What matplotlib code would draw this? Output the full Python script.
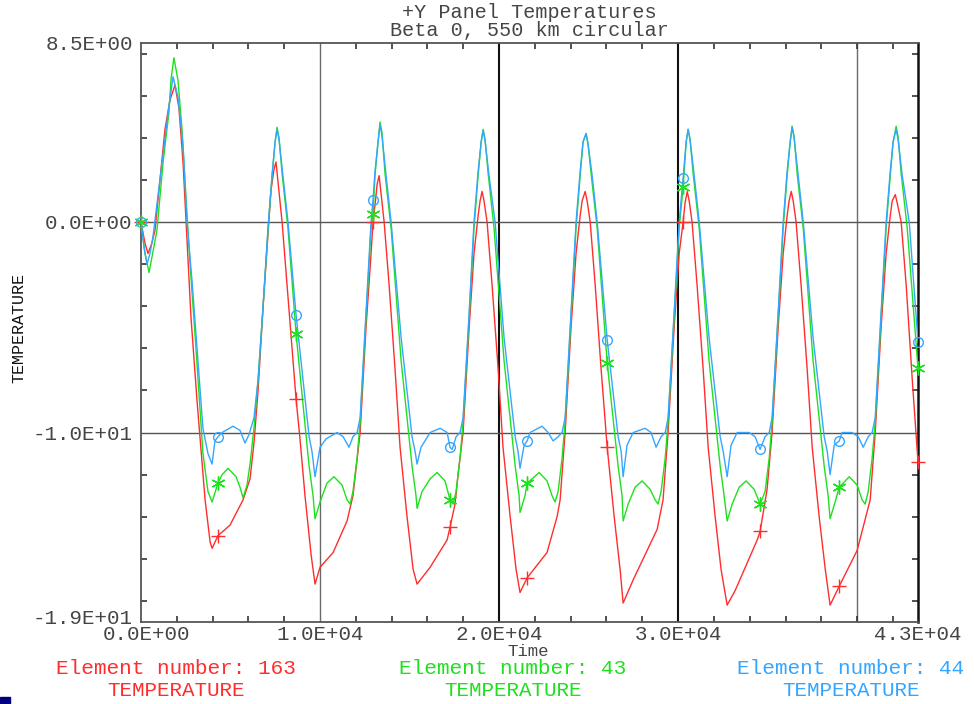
import numpy as np
import matplotlib
matplotlib.use("Agg")
import matplotlib.pyplot as plt
import matplotlib.transforms as mtransforms
from matplotlib.ticker import MultipleLocator
from matplotlib.patches import Rectangle

# (time [s], temperature)
red_pts = [
    (0, 0.0), (220, -1.0), (390, -1.5), (610, -1.0), (780, -0.4), (1060, 2.0), (1340, 4.4), (1620, 5.8), (1900, 6.5),
    (2120, 5.4), (2350, 2.8), (2570, -0.8), (2790, -4.5), (3130, -8.5), (3580, -13.2), (3860, -15.2), (3970, -15.5),
    (4300, -14.9), (4970, -14.4), (5700, -13.2), (6090, -12.2), (6310, -10.5), (6540, -8.0), (6820, -4.0),
    (7100, -0.5), (7260, 1.5), (7430, 2.5), (7540, 2.85),
    (7880, 0.0), (8160, -3.0), (8440, -6.0), (8660, -8.4), (8880, -10.3), (9160, -13.0), (9500, -15.8), (9720, -17.2),
    (10000, -16.4), (10730, -15.7), (11510, -14.2), (11840, -13.0), (12240, -10.0), (12570, -5.0), (12850, -1.5),
    (12960, 0.0), (13070, 0.8), (13190, 1.8), (13300, 2.2),
    (13580, 0.0), (13860, -3.0), (14190, -7.0), (14470, -10.7), (14860, -14.0), (15200, -16.5), (15420, -17.2),
    (16150, -16.4), (17100, -15.1), (17260, -14.5), (17540, -13.4), (17710, -12.0), (17990, -10.0), (18330, -5.0),
    (18600, -1.5), (18830, 0.3), (18940, 1.0), (19050, 1.45),
    (19160, 1.0), (19330, 0.0), (19610, -3.0), (19950, -7.0), (20220, -10.7), (20620, -14.0), (20950, -16.5), (21170, -17.6),
    (21570, -16.9), (22680, -15.7), (23240, -14.0), (23410, -13.2), (23690, -10.0), (24020, -5.0), (24300, -1.5),
    (24530, 0.3), (24640, 1.0), (24810, 1.45),
    (24920, 1.0), (25090, 0.0), (25370, -3.0), (25700, -7.0), (26040, -10.7), (26430, -14.0), (26760, -16.5), (26930, -18.1),
    (27490, -17.0), (28830, -14.6), (29160, -13.2), (29440, -10.0), (29780, -5.0), (30060, -1.5), (30280, 0.0),
    (30390, 0.9), (30510, 1.45),
    (30620, 1.0), (30780, 0.0), (31060, -3.0), (31400, -7.0), (31680, -10.7), (32070, -14.0), (32400, -16.5), (32740, -18.2),
    (33190, -17.5), (34420, -15.1), (34580, -14.7), (34970, -12.7), (35250, -10.0), (35590, -5.0), (35870, -1.5),
    (36090, 0.3), (36200, 1.0), (36320, 1.45),
    (36430, 1.0), (36590, 0.0), (36870, -3.0), (37210, -7.0), (37490, -10.7), (37880, -14.0), (38220, -16.5), (38490, -18.2),
    (39000, -17.3), (40000, -15.6), (40730, -13.2), (41010, -10.0), (41340, -5.0), (41620, -1.5), (41850, 0.3),
    (41960, 1.0), (42130, 1.3),
    (42240, 0.9), (42460, 0.0), (42740, -3.0), (43080, -7.5), (43400, -11.4),
]

green_pts = [
    (0, 0.0), (220, -1.5), (450, -2.4), (670, -1.4), (890, -0.4), (1230, 2.8), (1560, 5.2), (1680, 6.8), (1840, 7.8),
    (2070, 6.7), (2290, 4.4), (2510, 1.2), (2740, -2.0), (3070, -6.0), (3460, -11.0), (3740, -12.8), (3970, -13.3),
    (4300, -12.4), (4530, -12.0), (4860, -11.7), (5310, -12.1), (5530, -12.6), (5700, -13.1), (5920, -12.5),
    (6090, -11.5), (6310, -9.8), (6540, -7.5), (6820, -4.0), (7100, -0.3), (7320, 2.2), (7490, 3.8), (7600, 4.5),
    (7710, 4.0), (7880, 2.3), (8210, -0.3), (8660, -5.3), (9390, -11.6), (9610, -13.0), (9720, -14.1),
    (10000, -13.3), (10390, -12.4), (10780, -12.1), (11230, -12.5), (11510, -13.2), (11680, -13.4), (11840, -12.8),
    (12070, -11.2), (12240, -9.5), (12570, -4.5), (12850, -0.3), (12960, 0.4), (13070, 2.2), (13240, 3.8), (13350, 4.75),
    (13460, 4.25), (13630, 2.3), (13970, -0.3), (14530, -6.6), (15140, -11.6), (15360, -13.0), (15420, -13.6),
    (15700, -12.8), (16150, -12.2), (16540, -11.9), (16980, -12.3), (17260, -13.2), (17430, -13.4), (17600, -12.8),
    (17820, -11.2), (17990, -9.5), (18330, -4.5), (18600, -0.3), (18830, 2.2), (19000, 3.8), (19110, 4.4),
    (19220, 3.9), (19390, 2.3), (19720, -0.3), (20280, -6.6), (20900, -11.6), (21120, -13.0), (21170, -13.8),
    (21450, -13.0), (21570, -12.4), (21850, -12.2), (22240, -11.9), (22680, -12.3), (22960, -13.0), (23130, -13.3),
    (23300, -12.8),
    (23520, -11.2), (23690, -9.5), (24020, -4.5), (24300, -0.3), (24530, 2.2), (24690, 3.8), (24860, 4.2),
    (24970, 3.7), (25140, 2.3), (25480, -0.3), (26040, -6.7), (26650, -11.6), (26870, -13.0), (26930, -14.2),
    (27210, -13.4), (27600, -12.6), (27990, -12.3), (28440, -12.7), (28720, -13.2), (28880, -13.4), (29050, -12.8),
    (29280, -11.2), (29440, -9.5), (29780, -4.5), (30060, -0.3), (30280, 1.65), (30450, 3.8), (30560, 4.4),
    (30670, 3.9), (30840, 2.3), (31180, -0.3), (31730, -6.6), (32350, -11.6), (32570, -13.0), (32740, -14.2),
    (33020, -13.4), (33410, -12.6), (33800, -12.3), (34250, -12.7), (34580, -13.4), (34860, -12.8),
    (35090, -11.2), (35250, -9.5), (35590, -4.5), (35870, -0.3), (36090, 2.2), (36260, 3.8), (36370, 4.55),
    (36480, 4.05), (36650, 2.3), (36990, -0.3), (37540, -6.6), (38160, -11.6), (38380, -13.0), (38490, -14.1),
    (38770, -13.3), (39000, -12.6), (39560, -12.1), (40000, -12.5), (40280, -13.2), (40450, -13.4), (40620, -12.8),
    (40840, -11.2), (41010, -9.5), (41340, -4.5), (41620, -0.3), (41850, 2.2), (42010, 3.8), (42180, 4.55),
    (42290, 4.05), (42460, 2.3), (42800, -0.3), (43400, -6.95),
]

blue_pts = [
    (0, 0.0), (170, -1.2), (340, -2.0), (500, -1.5), (670, -0.7), (1170, 2.8), (1560, 5.5), (1790, 6.9),
    (2070, 5.9), (2350, 3.6), (2570, 0.0), (2850, -2.8), (3130, -6.0), (3460, -9.8), (3740, -11.0), (3970, -11.5),
    (4130, -10.4), (4300, -10.2), (4530, -10.0), (5140, -9.7), (5530, -9.9), (5810, -10.5), (6030, -10.1),
    (6310, -9.3), (6540, -7.5), (6820, -4.0), (7100, -0.2), (7320, 2.2), (7490, 3.8), (7600, 4.4),
    (7710, 3.9), (7930, 2.2), (8210, 0.0), (8660, -4.4), (9390, -10.2), (9550, -10.9), (9720, -12.1),
    (10000, -10.7), (10340, -10.3), (10950, -10.0), (11290, -10.2), (11620, -10.7), (11840, -10.2),
    (12070, -10.0), (12240, -9.3), (12570, -4.3), (12850, 0.0), (12960, 1.05), (13070, 2.4), (13240, 3.8), (13350, 4.6),
    (13460, 4.1), (13690, 2.2), (13970, 0.0), (14530, -5.5), (15140, -10.2), (15310, -10.9), (15420, -11.5),
    (15640, -10.7), (16150, -10.0), (16710, -9.8), (17100, -10.0), (17260, -10.7), (17380, -10.8), (17600, -10.2),
    (17820, -10.0), (17990, -9.3), (18330, -4.3), (18600, 0.0), (18830, 2.4), (19000, 3.8), (19110, 4.35),
    (19220, 3.85), (19440, 2.2), (19780, 0.0), (20280, -5.5), (20900, -10.2), (21060, -10.9), (21170, -11.7),
    (21400, -10.6), (21570, -10.4), (21730, -10.0), (22400, -9.7), (22740, -10.0), (23020, -10.4), (23300, -10.2),
    (23520, -10.0), (23690, -9.3), (24020, -4.3), (24300, 0.0), (24530, 2.4), (24690, 3.8), (24860, 4.2),
    (24970, 3.7), (25200, 2.2), (25480, 0.0), (26040, -5.6), (26650, -10.2), (26820, -10.9), (26930, -12.1),
    (27150, -10.6), (27490, -10.0), (28160, -9.8), (28490, -10.0), (28770, -10.7), (29050, -10.2),
    (29280, -10.0), (29440, -9.3), (29780, -4.3), (30060, 0.0), (30280, 2.1), (30450, 3.8), (30560, 4.4),
    (30670, 3.9), (30900, 2.2), (31180, 0.0), (31730, -5.5), (32350, -10.2), (32520, -10.9), (32740, -12.1),
    (32960, -10.6), (33300, -10.0), (33970, -10.0), (34300, -10.2), (34580, -10.8), (34860, -10.2),
    (35090, -10.0), (35250, -9.3), (35590, -4.3), (35870, 0.0), (36090, 2.4), (36260, 3.8), (36370, 4.5),
    (36480, 4.0), (36710, 2.2), (36990, 0.0), (37540, -5.5), (38160, -10.2), (38330, -10.9), (38490, -12.0),
    (38720, -10.6), (39000, -10.4), (39160, -10.0), (39720, -10.0), (40060, -10.2), (40340, -10.7), (40620, -10.2),
    (40840, -10.0), (41010, -9.3), (41340, -4.3), (41620, 0.0), (41850, 2.4), (42010, 3.8), (42180, 4.4),
    (42290, 3.9), (42520, 2.2), (42910, 0.0), (43400, -5.7),
]

# symbols drawn every few samples
mark_t = [0, 4300, 8660, 12960, 17260, 21570, 26040, 30280, 34580, 39000, 43400]
red_mark = [0.0, -14.9, -8.4, 0.0, -14.5, -16.9, -10.7, 0.0, -14.7, -17.3, -11.4]
green_mark = [0.0, -12.4, -5.3, 0.4, -13.2, -12.4, -6.7, 1.65, -13.4, -12.6, -6.95]
blue_mark = [0.0, -10.2, -4.4, 1.05, -10.7, -10.4, -5.6, 2.1, -10.8, -10.4, -5.7]

xtick_vals = [0, 10000, 20000, 30000, 43400]
xtick_text = ["0.0E+00", "1.0E+04", "2.0E+04", "3.0E+04", "4.3E+04"]
ytick_vals = [8.5, 0.0, -10.0, -19.0]
ytick_text = ["8.5E+00", "0.0E+00", "-1.0E+01", "-1.9E+01"]
grid_x_light = [10000, 40000]
grid_x_dark = [20000, 30000]
grid_y = [0.0, -10.0]

series = [
    ("Element number: 163", red_pts, red_mark, "#ff2d2d", "+"),
    ("Element number: 43", green_pts, green_mark, "#1fe01f", (6, 2, 0)),
    ("Element number: 44", blue_pts, blue_mark, "#35a6ff", "o"),
]

FONT = "Liberation Mono"
TXT = "#454545"

W, H = 974, 704
fig = plt.figure(figsize=(W / 100, H / 100), dpi=100)
ax = fig.add_axes([141 / W, 1 - 622 / H, 777 / W, 579 / H])

for x in grid_x_light:
    ax.axvline(x, color="#6a6a6a", lw=1.0, zorder=1)
for x in grid_x_dark:
    ax.axvline(x, color="#111111", lw=1.5, zorder=1)
for y in grid_y:
    ax.axhline(y, color="#555555", lw=1.0, zorder=1)

for name, pts, marks, col, mk in series:
    t, v = np.array(pts).T
    ax.plot(t, v, color=col, lw=1.0, zorder=3)
    if mk == "o":
        ax.plot(mark_t, marks, ls="none", marker="o", ms=7, mfc="none", mec=col, mew=1.0,
                zorder=4, clip_on=False)
    else:
        ax.plot(mark_t, marks, ls="none", marker=mk, ms=10, color=col, mew=1.0,
                zorder=4, clip_on=False)

ax.set_xlim(0, 43400)
ax.set_ylim(-19, 8.5)

ax.set_xticks(xtick_vals)
ax.set_xticklabels(xtick_text, fontfamily=FONT, fontsize=15, color=TXT)
ax.set_yticks(ytick_vals)
ax.set_yticklabels(ytick_text, fontfamily=FONT, fontsize=15, color=TXT)
ax.tick_params(which="major", length=0)
ax.tick_params(axis="x", which="major", pad=2)
ax.tick_params(axis="y", which="major", pad=6)
ax.xaxis.set_minor_locator(MultipleLocator(2000))
ax.yaxis.set_minor_locator(MultipleLocator(2))
ax.tick_params(which="minor", direction="in", length=4, width=1.2, color="#333333",
               top=True, right=True)

# first x label sits right of the corner, lowest y label a little higher
lbl0 = ax.get_xticklabels()[0]
lbl0.set_transform(lbl0.get_transform() + mtransforms.ScaledTranslation(6 / 100, 0, fig.dpi_scale_trans))
lbl_low = ax.get_yticklabels()[-1]
lbl_low.set_transform(lbl_low.get_transform() + mtransforms.ScaledTranslation(0, 5 / 100, fig.dpi_scale_trans))

for side in ["left", "bottom", "top"]:
    ax.spines[side].set_color("#555555")
    ax.spines[side].set_linewidth(1.3)
ax.spines["right"].set_color("#111111")
ax.spines["right"].set_linewidth(1.8)

fig.text(529 / W, 1 - 12.5 / H, "+Y Panel Temperatures", ha="center", va="center",
         fontfamily=FONT, fontsize=14.5, color=TXT)
fig.text(529 / W, 1 - 30 / H, "Beta 0, 550 km circular", ha="center", va="center",
         fontfamily=FONT, fontsize=14.5, color=TXT)
fig.text(19 / W, 1 - 328 / H, "TEMPERATURE", rotation=90, ha="center", va="center",
         fontfamily=FONT, fontsize=12, color="#111111")
fig.text(528 / W, 1 - 651 / H, "Time", ha="center", va="center",
         fontfamily=FONT, fontsize=12.5, color=TXT)

legend_x = [176, 513, 851]
for (name, pts, marks, col, mk), lx in zip(series, legend_x):
    fig.text(lx / W, 1 - 669 / H, name, ha="center", va="center",
             fontfamily=FONT, fontsize=15.2, color=col)
    fig.text(lx / W, 1 - 690 / H, "TEMPERATURE", ha="center", va="center",
             fontfamily=FONT, fontsize=15, color=col)

fig.patches.append(Rectangle((0, 0), 10 / W, 7 / H, transform=fig.transFigure,
                             color="#000080", zorder=5))

fig.savefig("out.png", dpi=100)
